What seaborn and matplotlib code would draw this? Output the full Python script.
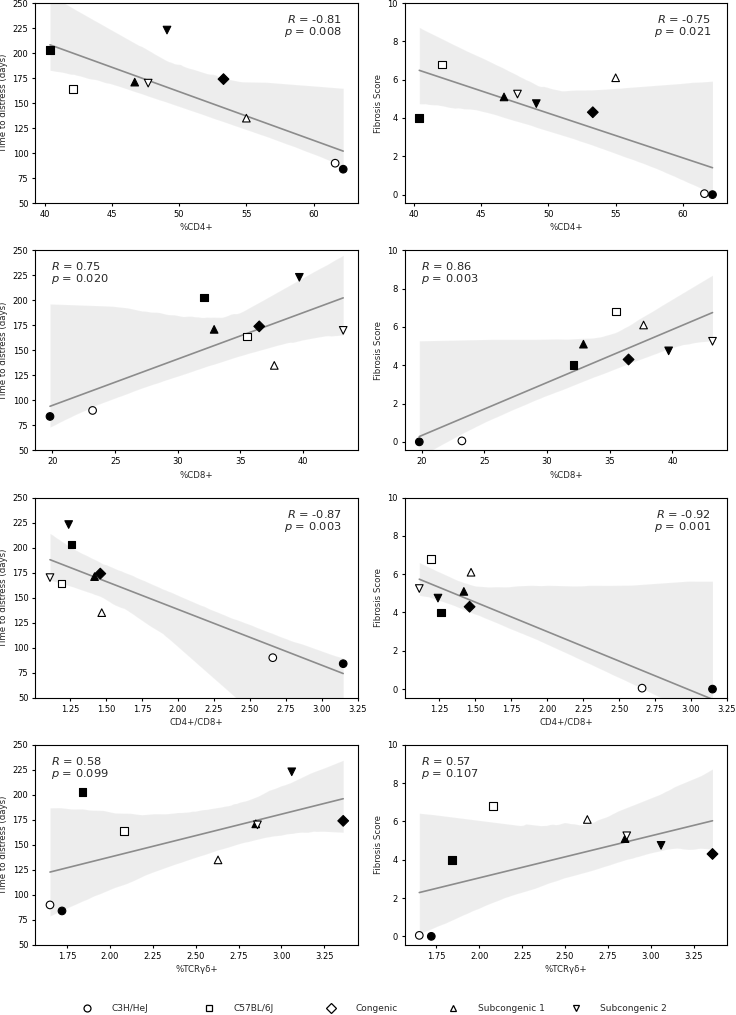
import matplotlib
matplotlib.use("Agg")
import matplotlib.pyplot as plt
from matplotlib.lines import Line2D
import pandas as pd
import seaborn as sns

# one row per mouse group
strain = ["C3H/HeJ", "C3H/HeJ", "C57BL/6J", "C57BL/6J", "Congenic",
          "Subcongenic 1", "Subcongenic 1", "Subcongenic 2", "Subcongenic 2"]
filled = ["filled", "open", "filled", "open", "filled",
          "filled", "open", "filled", "open"]
cd4 = [62.2, 61.6, 40.4, 42.1, 53.3, 46.7, 55.0, 49.1, 47.7]
cd8 = [19.8, 23.2, 32.1, 35.5, 36.5, 32.9, 37.7, 39.7, 43.2]
cd4_cd8 = [3.15, 2.66, 1.26, 1.19, 1.46, 1.42, 1.47, 1.24, 1.11]
tcr_gd = [1.72, 1.65, 1.84, 2.08, 3.36, 2.85, 2.63, 3.06, 2.86]
time_to_distress = [84, 90, 203, 164, 174, 171, 135, 223, 170]
fibrosis = [0.0, 0.05, 4.0, 6.8, 4.3, 5.1, 6.1, 4.75, 5.25]

x_vars = ["cd4", "cd8", "ratio", "tcr"]
x_labels = ["%CD4+", "%CD8+", "CD4+/CD8+", "%TCR\u03b3\u03b4+"]
y_vars = ["ttd", "fib"]
y_labels = ["Time to distress (days)", "Fibrosis Score"]

# stats text per panel, row-major order
r_values = ["-0.81", "-0.75", "0.75", "0.86", "-0.87", "-0.92", "0.58", "0.57"]
p_values = ["0.008", "0.021", "0.020", "0.003", "0.003", "0.001", "0.099", "0.107"]

legend_strains = ["C3H/HeJ", "C57BL/6J", "Congenic", "Subcongenic 1", "Subcongenic 2"]
strain_markers = {"C3H/HeJ": "o", "C57BL/6J": "s", "Congenic": "D",
                  "Subcongenic 1": "^", "Subcongenic 2": "v"}

df = pd.DataFrame({
    "strain": strain, "fill": filled, "cd4": cd4, "cd8": cd8,
    "ratio": cd4_cd8, "tcr": tcr_gd, "ttd": time_to_distress, "fib": fibrosis,
})

sns.set_style("ticks")
plt.rcParams["font.family"] = ["DejaVu Sans"]
plt.rcParams["font.size"] = 6
plt.rcParams["axes.labelsize"] = 6.2
plt.rcParams["xtick.labelsize"] = 6
plt.rcParams["ytick.labelsize"] = 6
plt.rcParams["xtick.major.size"] = 2.5
plt.rcParams["ytick.major.size"] = 2.5
plt.rcParams["xtick.major.width"] = 0.8
plt.rcParams["ytick.major.width"] = 0.8
plt.rcParams["xtick.major.pad"] = 2.5
plt.rcParams["ytick.major.pad"] = 2.5
plt.rcParams["axes.edgecolor"] = "black"
plt.rcParams["xtick.color"] = "black"
plt.rcParams["ytick.color"] = "black"
plt.rcParams["mathtext.fontset"] = "dejavusans"

fig, axes = plt.subplots(4, 2, figsize=(7.36, 10.15))
fig.subplots_adjust(left=0.048, right=0.988, top=0.997, bottom=0.069,
                    wspace=0.145, hspace=0.235)

for i, xv in enumerate(x_vars):
    for j, yv in enumerate(y_vars):
        ax = axes[i, j]
        sns.regplot(data=df, x=xv, y=yv, ax=ax, scatter=False, ci=95,
                    color="#8c8c8c", seed=3, line_kws={"linewidth": 1.2})
        sns.scatterplot(data=df, x=xv, y=yv, ax=ax, hue="fill",
                        palette={"filled": "black", "open": "white"},
                        style="strain", markers=strain_markers,
                        s=30, edgecolor="black", linewidth=0.8,
                        legend=False, zorder=3)
        if yv == "ttd":
            ax.set_ylim(50, 250)
            ax.set_yticks(range(50, 251, 25))
        else:
            ax.set_ylim(-0.45, 10)
            ax.set_yticks(range(0, 11, 2))
        ax.set_xlabel(x_labels[i], labelpad=3)
        ax.set_ylabel(y_labels[j], labelpad=3)
        for sp in ax.spines.values():
            sp.set_linewidth(0.8)
        k = i * 2 + j
        txt = "$R$ = " + r_values[k] + "\n$p$ = " + p_values[k]
        if r_values[k].startswith("-"):
            ax.text(0.95, 0.95, txt, transform=ax.transAxes, ha="right",
                    va="top", fontsize=8.2, linespacing=1.0)
        else:
            ax.text(0.05, 0.95, txt, transform=ax.transAxes, ha="left",
                    va="top", fontsize=8.2, linespacing=1.0)

# legend: open markers, evenly spaced along the bottom
for n, name in enumerate(legend_strains):
    handle = Line2D([], [], linestyle="none", marker=strain_markers[name],
                    markerfacecolor="white", markeredgecolor="black",
                    markersize=5, markeredgewidth=0.9, label=name)
    fig.legend(handles=[handle], loc="center left", frameon=False,
               bbox_to_anchor=(0.112 + n * 0.166, 0.0065),
               handletextpad=2.2, handlelength=1.0, fontsize=6.5,
               borderaxespad=0.0, borderpad=0.0)

fig.savefig("out.png", dpi=100)
